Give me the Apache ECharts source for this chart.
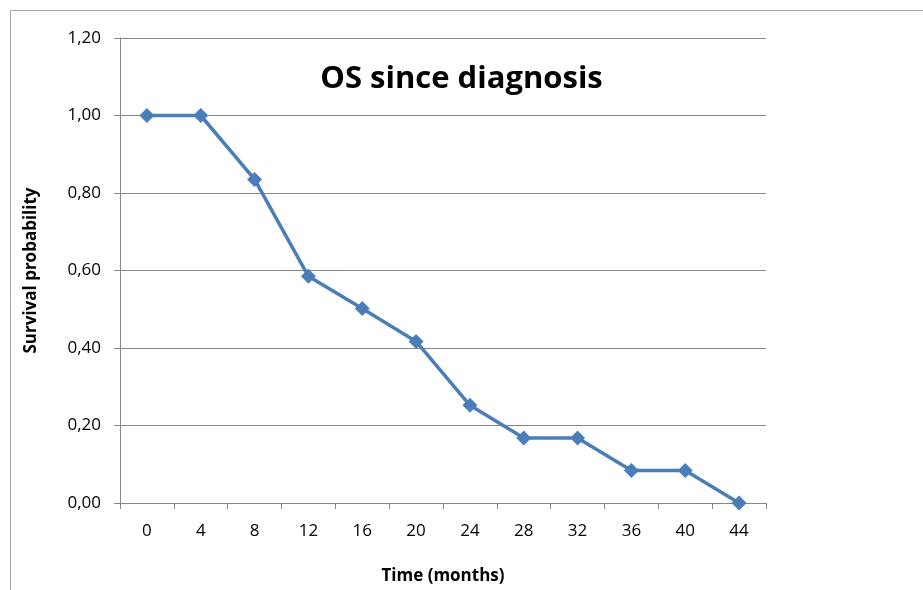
<!DOCTYPE html>
<html>
<head>
<meta charset="utf-8">
<script src="https://cdn.jsdelivr.net/npm/echarts@6/dist/echarts.min.js"></script>
<style>
html, body { margin: 0; padding: 0; background: #fff; }
#chart { width: 923px; height: 590px; }
</style>
</head>
<body>
<div id="chart"></div>
<script>
// 时间（月）
var months = ['0', '4', '8', '12', '16', '20', '24', '28', '32', '36', '40', '44'];
// 生存概率
var survival = [1.0, 1.0, 0.835, 0.585, 0.502, 0.417, 0.252, 0.168, 0.168, 0.084, 0.084, 0.0];

var myChart = echarts.init(document.getElementById('chart'));
myChart.setOption({
    animation: false,
    textStyle: { fontFamily: 'Open Sans' },
    title: {
        text: 'OS since diagnosis',
        left: 'center',
        top: 59,
        textStyle: { fontSize: 31, fontWeight: 'bold', color: '#000', fontFamily: 'Open Sans' }
    },
    graphic: [{ //外框
        type: 'rect',
        left: 8, top: 8,
        shape: { width: 1000, height: 1000 },
        style: { fill: 'none', stroke: '#a6a6a6', lineWidth: 1 },
        silent: true
    }],
    grid: {
        left: 120,
        right: 157,
        top: 38,
        bottom: 85
    },
    xAxis: {
        type: 'category',
        data: months,
        boundaryGap: true,
        name: 'Time (months)',
        nameLocation: 'middle',
        nameGap: 65,
        nameTextStyle: { fontSize: 17, fontWeight: 'bold', color: '#000' },
        axisLine: { lineStyle: { color: '#868686', width: 1 } },
        axisTick: { show: true, length: 6, lineStyle: { color: '#868686' } },
        axisLabel: { fontSize: 17, color: '#000', margin: 20 },
        splitLine: { show: false }
    },
    yAxis: {
        type: 'value',
        min: 0,
        max: 1.2,
        interval: 0.2,
        name: 'Survival probability',
        nameLocation: 'middle',
        nameGap: 80,
        nameRotate: 90,
        nameTextStyle: { fontSize: 17, fontWeight: 'bold', color: '#000' },
        axisLine: { show: true, lineStyle: { color: '#868686', width: 1 } },
        axisTick: { show: true, length: 6, lineStyle: { color: '#868686' } },
        axisLabel: {
            fontSize: 17, color: '#000', margin: 19,
            formatter: function (v) { return v.toFixed(2).replace('.', ','); }
        },
        splitLine: { lineStyle: { color: '#868686', width: 1 } }
    },
    series: [{
        name: 'OS',
        type: 'line',
        data: survival,
        symbol: 'diamond',
        symbolSize: 15,
        itemStyle: { color: '#4a7ebb' },
        lineStyle: { color: '#4a7ebb', width: 3.5 }
    }]
});
</script>
</body>
</html>
